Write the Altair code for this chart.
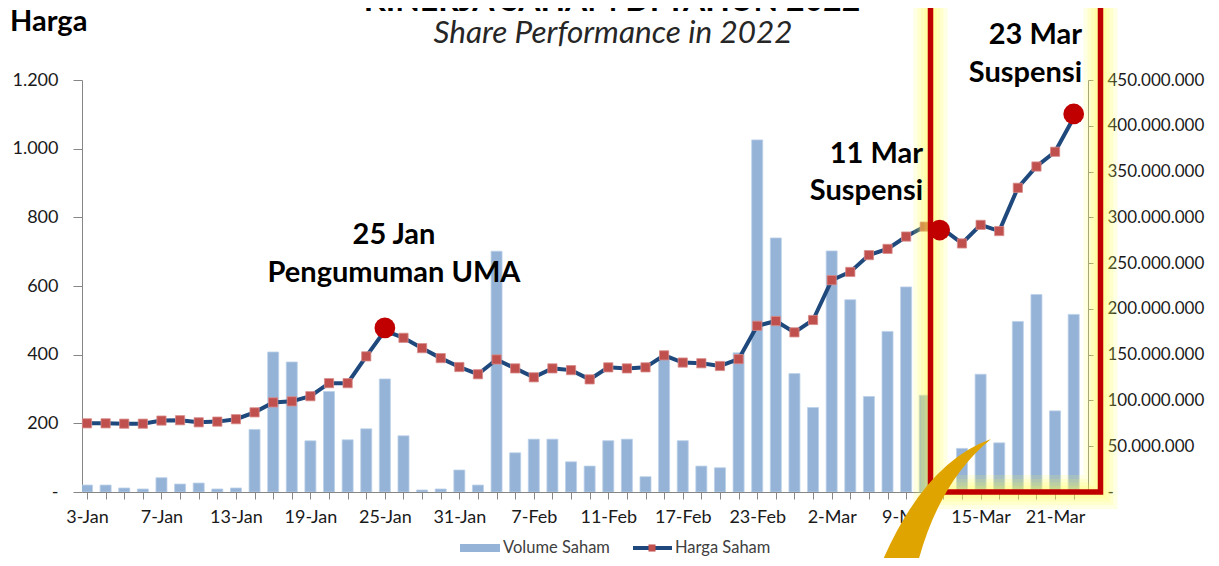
import altair as alt
import pandas as pd

# ---------------- data ----------------
dates = ["3-Jan", "4-Jan", "5-Jan", "6-Jan", "7-Jan", "10-Jan", "11-Jan", "12-Jan", "13-Jan", "14-Jan",
         "17-Jan", "18-Jan", "19-Jan", "20-Jan", "21-Jan", "24-Jan", "25-Jan", "26-Jan", "27-Jan", "28-Jan",
         "31-Jan", "2-Feb", "3-Feb", "4-Feb", "7-Feb", "8-Feb", "9-Feb", "10-Feb", "11-Feb",
         "14-Feb", "15-Feb", "16-Feb", "17-Feb", "18-Feb", "21-Feb", "22-Feb", "23-Feb", "24-Feb", "25-Feb",
         "1-Mar", "2-Mar", "4-Mar", "7-Mar", "8-Mar", "9-Mar", "10-Mar", "11-Mar",
         "14-Mar", "15-Mar", "16-Mar", "17-Mar", "18-Mar", "21-Mar", "22-Mar"]

harga_saham = [200, 200, 199, 199, 208, 209, 203, 205, 212, 232,
               261, 264, 279, 317, 317, 395, 470, 449, 419, 390,
               364, 343, 386, 360, 334, 360, 355, 328, 363,
               360, 363, 398, 377, 375, 367, 387, 484, 498, 465,
               501, 617, 641, 690, 708, 744, 773, 765,
               724, 778, 760, 886, 948, 991, 1090]

# in millions of shares
volume_juta = [7.6, 7.6, 4.4, 3.3, 15.6, 8.7, 9.8, 3.3, 4.4, 68.3,
               152.9, 142.0, 55.9, 109.7, 57.0, 69.0, 123.5, 61.4, 2.2, 3.3,
               24.0, 7.6, 263.0, 42.8, 57.7, 57.7, 33.0, 28.3, 56.0,
               57.7, 16.7, 146.0, 56.0, 28.3, 26.5, 152.0, 384.6, 277.5, 129.3,
               92.3, 263.3, 210.0, 104.3, 175.4, 224.0, 105.7, 0.0,
               47.6, 128.6, 53.7, 186.3, 215.7, 88.6, 194.0]

# highlighted events (category position, price)
event_pos = [16, 45.8, 53]
event_harga = [478, 763, 1101]

price_ticks = [0, 200, 400, 600, 800, 1000, 1200]
volume_ticks = [0, 50e6, 100e6, 150e6, 200e6, 250e6, 300e6, 350e6, 400e6, 450e6]

df = pd.DataFrame({
    "idx": list(range(len(dates))),
    "tanggal": dates,
    "harga": harga_saham,
    "volume": [v * 1e6 for v in volume_juta],
})
ev = pd.DataFrame({"idx": event_pos, "harga": event_harga})
one = pd.DataFrame({"a": [0]})

FONT = "Lato"
W, H = 1006, 412

# ---------------- scales / axes ----------------
label_arr = "[" + ",".join("'" + d + "'" for d in dates) + "]"
xscale = alt.Scale(domain=[0, len(dates) - 0.5], nice=False, zero=False)
xaxis = alt.Axis(values=list(range(len(dates))), title=None, grid=False,
                 labelExpr=f"datum.value % 4 == 0 ? {label_arr}[datum.value] : ''",
                 labelOverlap=False, labelFlush=False, tickSize=7, labelPadding=9,
                 domainColor="#868686", tickColor="#868686", labelFontSize=18)

price_axis = alt.Axis(orient="left", values=price_ticks, title=None, grid=False,
                      labelExpr="datum.value == 0 ? '-' : replace(format(datum.value, ','), ',', '.')",
                      tickSize=9, labelPadding=15, domainColor="#868686", tickColor="#868686",
                      labelFontSize=18)
vol_axis = alt.Axis(orient="right", values=volume_ticks, title=None, grid=False,
                    labelExpr="datum.value == 0 ? '-' : replace(replace(format(datum.value, ','), ',', '.'), ',', '.')",
                    tickSize=5, labelPadding=14, labelAlign="left", domainColor="#868686",
                    tickColor="#868686", labelFontSize=17)

price_scale = alt.Scale(domain=[0, 1200], nice=False)
vol_scale = alt.Scale(domain=[0, 450e6], nice=False)

base = alt.Chart(df)
X = alt.X("idx:Q", scale=xscale, axis=xaxis)

bars = base.mark_bar(size=11, color="#95B3D7", stroke="#BBD0E8", strokeWidth=0.8, clip=True).encode(
    x=X, y=alt.Y("volume:Q", scale=vol_scale, axis=vol_axis))

line = base.mark_line(color="#1F497D", strokeWidth=4).encode(
    x=X, y=alt.Y("harga:Q", scale=price_scale, axis=price_axis))
squares = base.mark_square(size=85, color="#C0504D", opacity=1, stroke="#D88C8A", strokeWidth=0.8).encode(
    x=X, y=alt.Y("harga:Q", scale=price_scale, axis=price_axis))
price_layer = alt.layer(line, squares)

dots = alt.Chart(ev).mark_circle(size=430, color="#C00000", opacity=1).encode(
    x=X, y=alt.Y("harga:Q", scale=price_scale, axis=None))


def box(width, color, opacity):
    return alt.Chart(one).mark_rect(fillOpacity=0, stroke=color, strokeWidth=width,
                                    strokeOpacity=opacity).encode(
        x=alt.value(848.5), x2=alt.value(1018.5), y=alt.value(-100), y2=alt.value(412))


glow = [box(w, "#FFFF4A", 0.15) for w in (34, 26, 19, 12, 7)]
red_box = box(5.5, "#C00000", 1)


def txt(s, x, y, size, weight="normal", style="normal", align="center", color="#000000",
        baseline="alphabetic"):
    return alt.Chart(one).mark_text(text=s, align=align, baseline=baseline, font=FONT,
                                    fontSize=size, fontWeight=weight, fontStyle=style,
                                    color=color).encode(x=alt.value(x), y=alt.value(y))


texts = [
    # the reference shows this heading cropped at the top edge
    txt("KINERJA SAHAM DI TAHUN 2022", 530, -69, 32, weight="bold"),
    txt("Share Performance in 2022", 531, -37, 31.5, style="italic", color="#262626"),
    txt("Harga", -72, -49, 29, weight="bold", align="left"),
    txt("25 Jan", 312, 164, 29, weight="bold"),
    txt("Pengumuman UMA", 312, 202, 29, weight="bold"),
    txt("11 Mar", 841, 83, 29, weight="bold", align="right"),
    txt("Suspensi", 841, 120, 29, weight="bold", align="right"),
    txt("23 Mar", 1000, -36, 29, weight="bold", align="right"),
    txt("Suspensi", 1000, 2, 29, weight="bold", align="right"),
]

# legend (drawn by hand, bottom centre)
LEG_Y = 468
leg_bar = alt.Chart(one).mark_rect(color="#95B3D7").encode(
    x=alt.value(378), x2=alt.value(418), y=alt.value(LEG_Y - 4), y2=alt.value(LEG_Y + 4))
leg_line = alt.Chart(one).mark_rule(color="#1F497D", strokeWidth=4).encode(
    x=alt.value(551), x2=alt.value(590), y=alt.value(LEG_Y))
leg_sq = alt.Chart(one).mark_square(size=50, color="#C0504D", opacity=1).encode(
    x=alt.value(570), y=alt.value(LEG_Y))
leg_t1 = txt("Volume Saham", 421, LEG_Y, 16.5, align="left", color="#404040", baseline="middle")
leg_t2 = txt("Harga Saham", 593, LEG_Y, 16.5, align="left", color="#404040", baseline="middle")

# golden arrow pointing at the suspension period
arrow = alt.Chart(one).mark_point(
    shape="M0,0 Q-0.7,0.25 -1.14,1.35 L-0.76,1.35 Q-0.55,0.45 0,0 Z",
    size=40000, filled=True, color="#E0A400", opacity=1, strokeWidth=0).encode(
    x=alt.value(909), y=alt.value(359))

chart = alt.layer(
    bars, price_layer, *glow, red_box, dots, *texts,
    leg_bar, leg_line, leg_sq, leg_t1, leg_t2, arrow
).resolve_scale(y="independent").properties(
    width=W, height=H,
    autosize=alt.AutoSizeParams(type="none"),
    padding={"left": 74, "top": 72, "right": 123, "bottom": 66},
    background="white",
).configure_axis(
    labelFont=FONT, labelColor="#1A1A1A"
).configure_view(strokeWidth=0)

chart.save("out.html", embed_options={"renderer": "svg", "actions": False})
